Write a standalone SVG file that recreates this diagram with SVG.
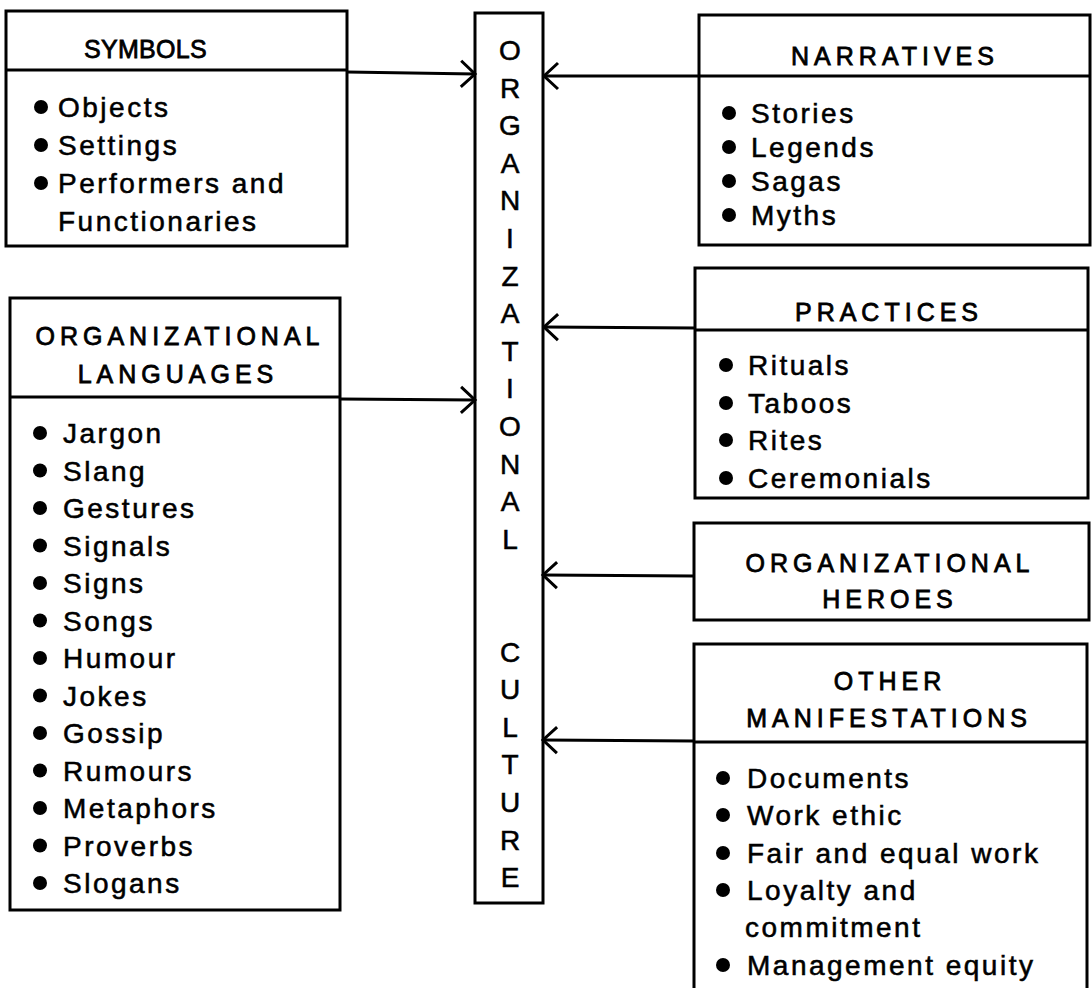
<svg xmlns="http://www.w3.org/2000/svg" width="1092" height="988" viewBox="0 0 1092 988">
  <style>
    .box { fill: #fff; stroke: #000; stroke-width: 3; }
    .rule { stroke: #000; stroke-width: 3; fill: none; }
    .wire { stroke: #000; stroke-width: 3; fill: none; }
    text { font-family: "Liberation Sans", Arial, Helvetica, sans-serif; fill: #000; stroke: #000; stroke-width: 0.55; }
    .title { font-size: 25px; letter-spacing: 5px; text-anchor: middle; stroke-width: 0.8; }
    .item { font-size: 28px; letter-spacing: 2.5px; }
    .col { font-size: 28px; text-anchor: middle; }
    .dot { fill: #000; }
  </style>
  <defs>
    <marker id="vee" markerUnits="userSpaceOnUse" markerWidth="20" markerHeight="32" viewBox="-16 -16 20 32" refX="0" refY="0" orient="auto">
      <path d="M -14 -13 L 0 0 L -14 13" fill="none" stroke="#000" stroke-width="3"/>
    </marker>
  </defs>

  <rect width="1092" height="988" fill="#fff"/>

  <!-- central column -->
  <g id="organizational-culture">
    <rect class="box" x="475" y="13" width="68" height="890"/>
    <text class="col" x="510" y="60">O</text>
    <text class="col" x="510" y="97.6">R</text>
    <text class="col" x="510" y="135.2">G</text>
    <text class="col" x="510" y="172.8">A</text>
    <text class="col" x="510" y="210.4">N</text>
    <text class="col" x="510" y="248">I</text>
    <text class="col" x="510" y="285.6">Z</text>
    <text class="col" x="510" y="323.2">A</text>
    <text class="col" x="510" y="360.8">T</text>
    <text class="col" x="510" y="398.4">I</text>
    <text class="col" x="510" y="436">O</text>
    <text class="col" x="510" y="473.6">N</text>
    <text class="col" x="510" y="511.2">A</text>
    <text class="col" x="510" y="548.8">L</text>
    <text class="col" x="510" y="661.6">C</text>
    <text class="col" x="510" y="699.2">U</text>
    <text class="col" x="510" y="736.8">L</text>
    <text class="col" x="510" y="774.4">T</text>
    <text class="col" x="510" y="812">U</text>
    <text class="col" x="510" y="849.6">R</text>
    <text class="col" x="510" y="887.2">E</text>
  </g>

  <!-- symbols -->
  <g id="symbols">
    <rect class="box" x="6" y="11" width="341" height="235"/>
    <line class="rule" x1="6" y1="70" x2="347" y2="70"/>
    <text class="title" x="84" y="58" style="text-anchor:start;letter-spacing:0.3px">SYMBOLS</text>
    <circle class="dot" cx="41" cy="107" r="7"/>
    <text class="item" x="58" y="117">Objects</text>
    <circle class="dot" cx="41" cy="145" r="7"/>
    <text class="item" x="58" y="155">Settings</text>
    <circle class="dot" cx="41" cy="183" r="7"/>
    <text class="item" x="58" y="193">Performers and</text>
    <text class="item" x="58" y="231">Functionaries</text>
  </g>

  <!-- organizational languages -->
  <g id="languages">
    <rect class="box" x="10" y="298" width="330" height="612"/>
    <line class="rule" x1="10" y1="397" x2="340" y2="397"/>
    <text class="title" x="180" y="345">ORGANIZATIONAL</text>
    <text class="title" x="178" y="383">LANGUAGES</text>
    <g>
      <circle class="dot" cx="40" cy="433" r="7"/><text class="item" x="63" y="443">Jargon</text>
      <circle class="dot" cx="40" cy="470.5" r="7"/><text class="item" x="63" y="480.5">Slang</text>
      <circle class="dot" cx="40" cy="508" r="7"/><text class="item" x="63" y="518">Gestures</text>
      <circle class="dot" cx="40" cy="545.5" r="7"/><text class="item" x="63" y="555.5">Signals</text>
      <circle class="dot" cx="40" cy="583" r="7"/><text class="item" x="63" y="593">Signs</text>
      <circle class="dot" cx="40" cy="620.5" r="7"/><text class="item" x="63" y="630.5">Songs</text>
      <circle class="dot" cx="40" cy="658" r="7"/><text class="item" x="63" y="668">Humour</text>
      <circle class="dot" cx="40" cy="695.5" r="7"/><text class="item" x="63" y="705.5">Jokes</text>
      <circle class="dot" cx="40" cy="733" r="7"/><text class="item" x="63" y="743">Gossip</text>
      <circle class="dot" cx="40" cy="770.5" r="7"/><text class="item" x="63" y="780.5">Rumours</text>
      <circle class="dot" cx="40" cy="808" r="7"/><text class="item" x="63" y="818">Metaphors</text>
      <circle class="dot" cx="40" cy="845.5" r="7"/><text class="item" x="63" y="855.5">Proverbs</text>
      <circle class="dot" cx="40" cy="883" r="7"/><text class="item" x="63" y="893">Slogans</text>
    </g>
  </g>

  <!-- narratives -->
  <g id="narratives">
    <rect class="box" x="699" y="15" width="391" height="230"/>
    <line class="rule" x1="699" y1="76" x2="1090" y2="76"/>
    <text class="title" x="895" y="65">NARRATIVES</text>
    <circle class="dot" cx="729" cy="113" r="7"/><text class="item" x="751" y="123">Stories</text>
    <circle class="dot" cx="729" cy="147" r="7"/><text class="item" x="751" y="157">Legends</text>
    <circle class="dot" cx="729" cy="181" r="7"/><text class="item" x="751" y="191">Sagas</text>
    <circle class="dot" cx="729" cy="215" r="7"/><text class="item" x="751" y="225">Myths</text>
  </g>

  <!-- practices -->
  <g id="practices">
    <rect class="box" x="695" y="268" width="393" height="230"/>
    <line class="rule" x1="695" y1="330" x2="1088" y2="330"/>
    <text class="title" x="889" y="321">PRACTICES</text>
    <circle class="dot" cx="726" cy="365" r="7"/><text class="item" x="748" y="375">Rituals</text>
    <circle class="dot" cx="726" cy="403" r="7"/><text class="item" x="748" y="413">Taboos</text>
    <circle class="dot" cx="726" cy="440" r="7"/><text class="item" x="748" y="450">Rites</text>
    <circle class="dot" cx="726" cy="478" r="7"/><text class="item" x="748" y="488">Ceremonials</text>
  </g>

  <!-- organizational heroes -->
  <g id="heroes">
    <rect class="box" x="694" y="523" width="395" height="97"/>
    <text class="title" x="890" y="572">ORGANIZATIONAL</text>
    <text class="title" x="890" y="608">HEROES</text>
  </g>

  <!-- other manifestations (runs off the lower edge) -->
  <g id="other">
    <path class="box" d="M 694 992 L 694 644 L 1087 644 L 1087 992"/>
    <line class="rule" x1="694" y1="742" x2="1087" y2="742"/>
    <text class="title" x="890" y="690">OTHER</text>
    <text class="title" x="889" y="727">MANIFESTATIONS</text>
    <circle class="dot" cx="723" cy="778" r="7"/><text class="item" x="747" y="788">Documents</text>
    <circle class="dot" cx="723" cy="815" r="7"/><text class="item" x="747" y="825">Work ethic</text>
    <circle class="dot" cx="723" cy="853" r="7"/><text class="item" x="747" y="863">Fair and equal work</text>
    <circle class="dot" cx="723" cy="890" r="7"/><text class="item" x="747" y="900">Loyalty and</text>
    <text class="item" x="745" y="937">commitment</text>
    <circle class="dot" cx="723" cy="965" r="7"/><text class="item" x="747" y="975">Management equity</text>
  </g>

  <!-- connectors -->
  <g id="connectors">
    <line class="wire" x1="347" y1="72" x2="475" y2="74" marker-end="url(#vee)"/>
    <line class="wire" x1="340" y1="399" x2="475" y2="400" marker-end="url(#vee)"/>
    <line class="wire" x1="699" y1="76" x2="544" y2="76" marker-end="url(#vee)"/>
    <line class="wire" x1="695" y1="328" x2="544" y2="327" marker-end="url(#vee)"/>
    <line class="wire" x1="694" y1="576" x2="543" y2="575" marker-end="url(#vee)"/>
    <line class="wire" x1="694" y1="741" x2="543" y2="740" marker-end="url(#vee)"/>
  </g>
</svg>
